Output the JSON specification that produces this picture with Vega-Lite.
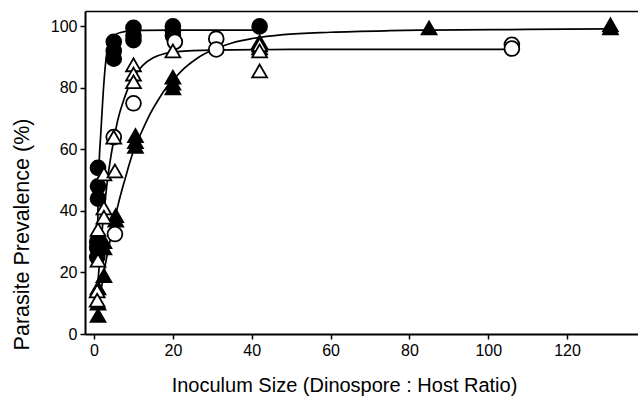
{
  "$schema": "https://vega.github.io/schema/vega-lite/v6.json",
  "width": 553,
  "height": 323,
  "autosize": {"type": "none"},
  "padding": {"left": 85, "top": 11, "right": 0, "bottom": 67},
  "background": "white",
  "config": {
    "view": {"stroke": null},
    "font": "Liberation Sans",
    "axis": {
      "domainColor": "black",
      "tickColor": "black",
      "labelColor": "black",
      "titleColor": "black",
      "labelFont": "Liberation Sans",
      "titleFont": "Liberation Sans",
      "labelFontSize": 16,
      "titleFontSize": 20,
      "titleFontWeight": "normal",
      "grid": false,
      "tickSize": 5,
      "tickWidth": 1.5,
      "domainWidth": 2,
      "labelPadding": 3
    }
  },
  "datasets": {
    "curves": [
      {"series": "A", "x": 0.8, "y": 25}, {"series": "A", "x": 1.0, "y": 42}, {"series": "A", "x": 1.3, "y": 56},
      {"series": "A", "x": 1.7, "y": 65}, {"series": "A", "x": 2.2, "y": 76}, {"series": "A", "x": 2.7, "y": 85},
      {"series": "A", "x": 3.2, "y": 91}, {"series": "A", "x": 3.8, "y": 94.5}, {"series": "A", "x": 4.5, "y": 96.3},
      {"series": "A", "x": 5.5, "y": 97.4}, {"series": "A", "x": 7, "y": 98.1}, {"series": "A", "x": 9, "y": 98.5},
      {"series": "A", "x": 12, "y": 98.7}, {"series": "A", "x": 20, "y": 98.8}, {"series": "A", "x": 42, "y": 98.8},
      {"series": "C", "x": 0.8, "y": 14}, {"series": "C", "x": 1.3, "y": 22}, {"series": "C", "x": 2, "y": 33},
      {"series": "C", "x": 2.7, "y": 42}, {"series": "C", "x": 3.5, "y": 51}, {"series": "C", "x": 4.3, "y": 58},
      {"series": "C", "x": 5, "y": 63}, {"series": "C", "x": 6, "y": 69.5}, {"series": "C", "x": 7.5, "y": 76},
      {"series": "C", "x": 9, "y": 81}, {"series": "C", "x": 10.5, "y": 84.5}, {"series": "C", "x": 12.5, "y": 87.5},
      {"series": "C", "x": 15, "y": 89.8}, {"series": "C", "x": 18, "y": 91.2}, {"series": "C", "x": 21, "y": 91.8},
      {"series": "C", "x": 30, "y": 92.3}, {"series": "C", "x": 50, "y": 92.5}, {"series": "C", "x": 106, "y": 92.5},
      {"series": "D", "x": 1.3, "y": 11}, {"series": "D", "x": 2, "y": 16}, {"series": "D", "x": 3, "y": 23.5},
      {"series": "D", "x": 4, "y": 30}, {"series": "D", "x": 5, "y": 36}, {"series": "D", "x": 6, "y": 41.5},
      {"series": "D", "x": 7, "y": 46.5}, {"series": "D", "x": 8, "y": 51}, {"series": "D", "x": 9, "y": 55.5},
      {"series": "D", "x": 10, "y": 59.5}, {"series": "D", "x": 12, "y": 65.5}, {"series": "D", "x": 14, "y": 71},
      {"series": "D", "x": 16, "y": 75.5}, {"series": "D", "x": 18, "y": 79.5}, {"series": "D", "x": 20, "y": 82.5},
      {"series": "D", "x": 23, "y": 86.5}, {"series": "D", "x": 26, "y": 89.5}, {"series": "D", "x": 30, "y": 92.3},
      {"series": "D", "x": 35, "y": 94.6}, {"series": "D", "x": 40, "y": 96}, {"series": "D", "x": 48, "y": 97.3},
      {"series": "D", "x": 60, "y": 98.1}, {"series": "D", "x": 75, "y": 98.6}, {"series": "D", "x": 85, "y": 98.8},
      {"series": "D", "x": 110, "y": 99}, {"series": "D", "x": 131, "y": 99.2}
    ],
    "points": [
      {"group": "D", "x": 1, "y": 15}, {"group": "D", "x": 1, "y": 10}, {"group": "D", "x": 1, "y": 6},
      {"group": "D", "x": 2.5, "y": 19}, {"group": "D", "x": 2.5, "y": 28}, {"group": "D", "x": 2.5, "y": 30},
      {"group": "D", "x": 5.5, "y": 38.5}, {"group": "D", "x": 5.5, "y": 37},
      {"group": "D", "x": 10.5, "y": 64.5}, {"group": "D", "x": 10.5, "y": 62.5}, {"group": "D", "x": 10.5, "y": 61},
      {"group": "D", "x": 20, "y": 83.5}, {"group": "D", "x": 20, "y": 81.5}, {"group": "D", "x": 20, "y": 80},
      {"group": "D", "x": 42, "y": 95}, {"group": "D", "x": 42, "y": 93},
      {"group": "D", "x": 85, "y": 99.5}, {"group": "D", "x": 131, "y": 100.5}, {"group": "D", "x": 131, "y": 99.5},
      {"group": "A", "x": 1, "y": 54}, {"group": "A", "x": 1, "y": 48}, {"group": "A", "x": 1, "y": 44},
      {"group": "A", "x": 0.8, "y": 30}, {"group": "A", "x": 0.8, "y": 28}, {"group": "A", "x": 0.8, "y": 25},
      {"group": "A", "x": 5, "y": 95}, {"group": "A", "x": 5, "y": 92}, {"group": "A", "x": 5, "y": 89.5},
      {"group": "A", "x": 10, "y": 99.5}, {"group": "A", "x": 10, "y": 97}, {"group": "A", "x": 10, "y": 95.5},
      {"group": "A", "x": 20, "y": 100}, {"group": "A", "x": 20, "y": 98.5}, {"group": "A", "x": 20, "y": 97},
      {"group": "A", "x": 42, "y": 100},
      {"group": "B", "x": 5.3, "y": 32.5}, {"group": "B", "x": 5, "y": 64}, {"group": "B", "x": 10, "y": 75},
      {"group": "B", "x": 20.5, "y": 95}, {"group": "B", "x": 31, "y": 96}, {"group": "B", "x": 31, "y": 92.5},
      {"group": "B", "x": 106, "y": 94}, {"group": "B", "x": 106, "y": 92.8},
      {"group": "C", "x": 1, "y": 34}, {"group": "C", "x": 1, "y": 24}, {"group": "C", "x": 0.8, "y": 14}, {"group": "C", "x": 0.8, "y": 11},
      {"group": "C", "x": 2.5, "y": 52}, {"group": "C", "x": 2.5, "y": 41}, {"group": "C", "x": 2.5, "y": 38},
      {"group": "C", "x": 5, "y": 64}, {"group": "C", "x": 5.3, "y": 53},
      {"group": "C", "x": 10, "y": 87.5}, {"group": "C", "x": 10, "y": 84.5}, {"group": "C", "x": 10, "y": 82},
      {"group": "C", "x": 20, "y": 92}, {"group": "C", "x": 42, "y": 94}, {"group": "C", "x": 42, "y": 92}, {"group": "C", "x": 42, "y": 85.5}
    ]
  },
  "layer": [
    {
      "data": {"name": "curves"},
      "mark": {"type": "line", "interpolate": "monotone", "color": "black", "strokeWidth": 1.7},
      "encoding": {
        "x": {
          "field": "x", "type": "quantitative",
          "scale": {"domain": [-2.3, 138], "nice": false, "zero": false},
          "axis": {"orient": "bottom", "values": [0, 20, 40, 60, 80, 100, 120], "title": "Inoculum Size (Dinospore : Host Ratio)", "titleX": 259, "titleY": 57, "titleBaseline": "alphabetic", "titleAlign": "center", "titleAnchor": null}
        },
        "y": {
          "field": "y", "type": "quantitative",
          "scale": {"domain": [0, 105], "nice": false, "zero": false},
          "axis": {"values": [0, 20, 40, 60, 80, 100], "title": "Parasite Prevalence (%)", "titleFontSize": 21.5, "titleX": -57, "titleY": 223, "titleAngle": 270, "titleBaseline": "alphabetic", "titleAlign": "center"}
        },
        "detail": {"field": "series"}
      }
    },
    {
      "data": {"name": "points"},
      "mark": {"type": "point", "filled": true, "stroke": "black", "strokeWidth": 1.8, "opacity": 1, "fillOpacity": 1, "strokeOpacity": 1},
      "encoding": {
        "x": {
          "field": "x", "type": "quantitative",
          "scale": {"domain": [-2.3, 138], "nice": false, "zero": false},
          "axis": {"orient": "top", "labels": false, "ticks": false, "title": null, "domainWidth": 1.5}
        },
        "y": {"field": "y", "type": "quantitative"},
        "shape": {"field": "group", "type": "nominal", "scale": {"domain": ["A", "B", "C", "D"], "range": ["circle", "circle", "triangle-up", "triangle-up"]}, "legend": null},
        "fill": {"field": "group", "type": "nominal", "scale": {"domain": ["A", "B", "C", "D"], "range": ["black", "white", "white", "black"]}, "legend": null},
        "size": {"field": "group", "type": "nominal", "scale": {"domain": ["A", "B", "C", "D"], "range": [220, 220, 260, 260]}, "legend": null}
      }
    }
  ],
  "resolve": {"axis": {"x": "independent"}}
}
